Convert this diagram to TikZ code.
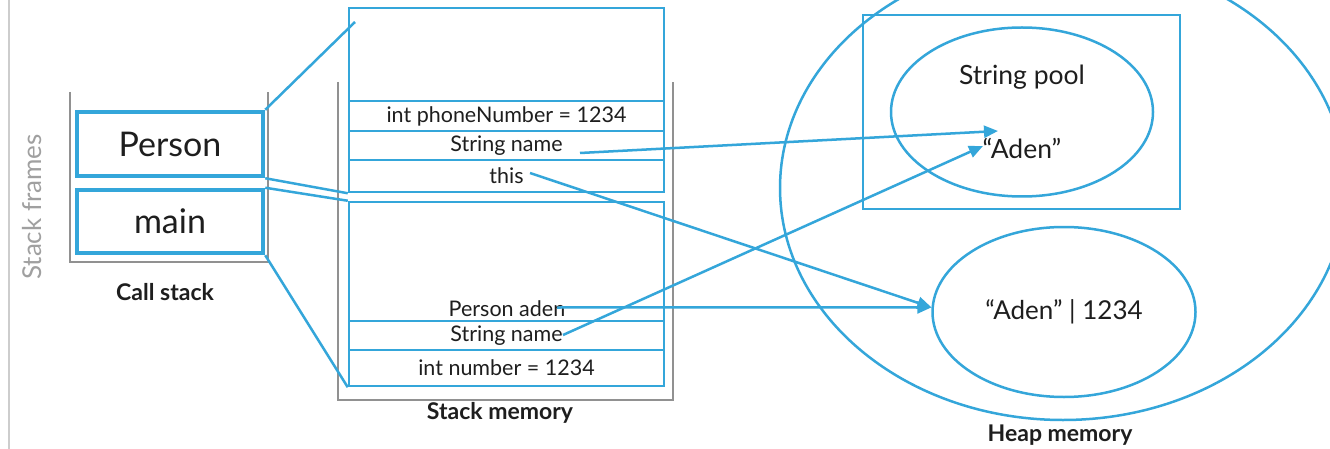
\documentclass[tikz,border=0pt]{standalone}
\usepackage{fontspec}
\setmainfont{Lato}
\usetikzlibrary{shapes.geometric,arrows.meta}

\definecolor{memblue}{RGB}{52,166,218}
\definecolor{ink}{RGB}{30,30,30}
\definecolor{bracketgrey}{RGB}{145,145,145}
\definecolor{railgrey}{RGB}{205,205,205}
\definecolor{sidegrey}{RGB}{160,160,160}

\begin{document}
\begin{tikzpicture}[x=1pt,y=-1pt,
  thinblue/.style={draw=memblue,line width=2.5pt},
  framebox/.style={thinblue,rectangle,inner sep=0pt,minimum width=315pt},
  slot/.style={thinblue,rectangle,inner sep=0pt,minimum width=315pt,
               text=ink,font=\fontsize{21.5}{25}\selectfont},
  slottext/.style={inner sep=0pt,text=ink,font=\fontsize{21.5}{25}\selectfont},
  callframe/.style={draw=memblue,line width=4.5pt,rectangle,inner sep=0pt,
               minimum width=186pt,text=ink,font=\fontsize{34}{40}\selectfont},
  caption/.style={inner sep=0pt,text=ink,font=\fontsize{23}{27}\selectfont\bfseries},
  bubble/.style={thinblue,ellipse,inner sep=0pt},
  bubbletext/.style={inner sep=0pt,text=ink,font=\fontsize{26.5}{31}\selectfont},
  bracket/.style={draw=bracketgrey,line width=2.5pt},
  link/.style={draw=memblue,line width=2.5pt},
  ref/.style={draw=memblue,line width=2.5pt,-{Triangle[length=14pt,width=12pt]}},
]
\useasboundingbox (0,0) rectangle (1330,449);
\fill[white] (0,0) rectangle (1330,449);

% side rail and its label
\draw[railgrey,line width=1.2pt] (9,0) -- (9,449);
\node[rotate=90,inner sep=0pt,text=sidegrey,font=\fontsize{26}{30}\selectfont] (sideLabel) at (32,207) {Stack frames};

% ---------------- call stack ----------------
\draw[bracket] (70,92) -- (70,262) -- (268,262) -- (268,92);
\node[callframe,minimum height=64pt] (person) at (170,144) {Person};
\node[callframe,minimum height=63pt] (main) at (170,221.5) {main};
\node[caption] (callLabel) at (165,292) {Call stack};

% ---------------- stack memory ----------------
\draw[bracket] (338,82) -- (338,400) -- (673,400) -- (673,82);

% frame of Person
\node[framebox,minimum height=184pt] (pFrame) at (506.5,100) {};
\node[slot,minimum height=30pt] (pPhone) at (506.5,116) {int phoneNumber = 1234};
\node[slot,minimum height=29pt] (pName) at (506.5,145.5) {String name};
\node[slot,minimum height=32pt] (pThis) at (506.5,176) {this};
\coordinate (pTop) at (355,22);

% frame of main
\node[framebox,minimum height=184pt] (mFrame) at (506.5,294) {};
\node[slottext] (mAden) at (507,309) {Person aden};
\node[slot,minimum height=29pt] (mName) at (506.5,335.5) {String name};
\node[slot,minimum height=36pt] (mNum) at (506.5,368) {int number = 1234};
\node[caption] (stackLabel) at (500,413) {Stack memory};

% call frames linked to their stack frames
\draw[link] (person.north east) -- (pTop);
\draw[link] (person.south east) -- (pFrame.south west);
\draw[link] (main.north east) -- (mFrame.north west);
\draw[link] (main.south east) -- (mFrame.south west);

% ---------------- heap ----------------
\begin{scope}
\clip (0,0) rectangle (1330,449);
\node[bubble,minimum width=566pt,minimum height=464pt] (heap) at (1063,188) {};
\end{scope}
\node[caption] (heapLabel) at (1060,435) {Heap memory};

\node[thinblue,rectangle,inner sep=0pt,minimum width=317pt,minimum height=194pt] (poolBox) at (1021.5,112) {};
\node[bubble,minimum width=262pt,minimum height=169pt] (pool) at (1022,112) {};
\node[bubbletext] (poolLabel) at (1022,77) {String pool};
\node[bubbletext] (poolAden) at (1022,148) {“Aden”};

\node[bubble,minimum width=263pt,minimum height=170pt,text=ink,
      font=\fontsize{26}{31}\selectfont] (obj) at (1064,312) {“Aden” | 1234};

% ---------------- references ----------------
\coordinate (pNameOut) at (580,153);
\coordinate (pThisOut) at (530,173);
\coordinate (mAdenOut) at (557,307.5);
\coordinate (mNameOut) at (563,335);
\coordinate (poolTipA) at (998,131);
\coordinate (poolTipB) at (983,146);

\draw[ref] (pNameOut) -- (poolTipA);
\draw[ref] (mNameOut) -- (poolTipB);
\draw[ref] (pThisOut) -- (obj.178);
\draw[ref] (mAdenOut) -- (obj.178);
\end{tikzpicture}
\end{document}
